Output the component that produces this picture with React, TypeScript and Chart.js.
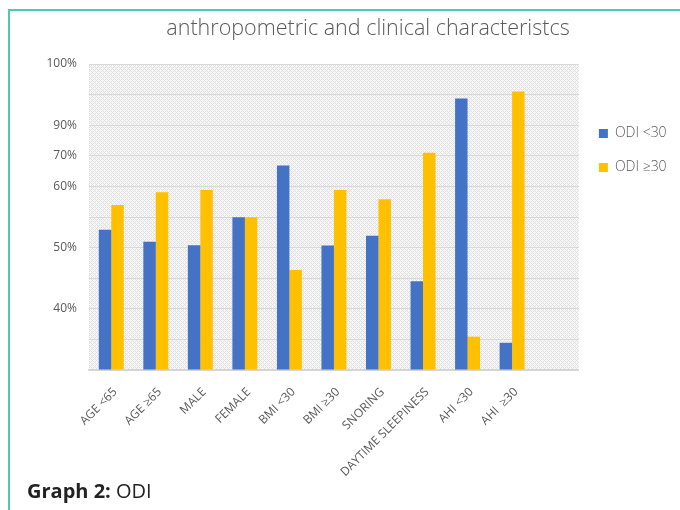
import React, { useEffect, useRef } from "react";
import { Chart, registerables } from "chart.js";

Chart.register(...registerables);

const chartTitle = "anthropometric and clinical characteristcs";
// the source chart keeps an empty 11th category slot at the right end
const categories = [
  "AGE <65",
  "AGE ≥65",
  "MALE",
  "FEMALE",
  "BMI <30",
  "BMI ≥30",
  "SNORING",
  "DAYTIME SLEEPINESS",
  "AHI <30",
  "AHI  ≥30",
  "",
];
const seriesNames = ["ODI <30", "ODI ≥30"];
const odiBelow30 = [45.8, 41.9, 40.8, 49.9, 66.8, 40.7, 43.9, 29.0, 88.7, 8.9, null];
const odiAbove30 = [53.9, 58.1, 58.8, 49.9, 32.7, 58.8, 55.8, 71.0, 10.9, 91.0, null];
const yTickValues = [100, 80, 70, 60, 40, 20];
const yTickLabels = ["100%", "90%", "70%", "60%", "50%", "40%"];

const BLUE = "#4472C4";
const YELLOW = "#FFC000";
const TEXT = "#595959";
const FONT = "'Open Sans'";

const hatchPlugin = {
  id: "hatchBg",
  beforeDraw(chart: any) {
    const { ctx, chartArea: a } = chart;
    const p = document.createElement("canvas");
    p.width = 4;
    p.height = 4;
    const pc = p.getContext("2d")!;
    pc.fillStyle = "#f6f6f6";
    pc.fillRect(0, 0, 4, 4);
    pc.fillStyle = "#e0e0e0";
    pc.fillRect(0, 0, 1, 1);
    pc.fillRect(1, 1, 1, 1);
    pc.fillRect(2, 2, 1, 1);
    pc.fillRect(3, 3, 1, 1);
    pc.fillRect(3, 1, 1, 1);
    pc.fillRect(1, 3, 1, 1);
    const pat = ctx.createPattern(p, "repeat");
    ctx.save();
    ctx.fillStyle = pat;
    ctx.fillRect(a.left, a.top, a.right - a.left, a.bottom - a.top);
    ctx.restore();
  },
};

function measure(text: string, font: string) {
  const c = document.createElement("canvas").getContext("2d")!;
  c.font = font;
  return c.measureText(text).width;
}

export default function App() {
  const ref = useRef<HTMLCanvasElement>(null);

  useEffect(() => {
    if (!ref.current) return;
    // layout targets
    const plotLeft = 89;
    const plotRight = 578;
    const legendPad = 20;
    const titleCenter = 368;
    const legendFontSize = 14;
    const boxW = 9;
    const legendTextW = Math.max(
      ...seriesNames.map((s) => measure(s, `${legendFontSize}px ${FONT}`))
    );
    const legendW = legendPad + boxW + legendFontSize / 2 + legendTextW + 10;
    const padRight = 680 - plotRight - legendW;
    const padLeft = 2 * titleCenter - 680 + padRight;
    const yAxisW = plotLeft - padLeft;
    const yFont = `12px ${FONT}`;
    const widest = Math.max(...yTickLabels.map((s) => measure(s, yFont)));
    const yLabelRight = 77;
    const yPad = yLabelRight - plotLeft - widest;

    const chart = new Chart(ref.current, {
      type: "bar",
      data: {
        labels: categories,
        datasets: [
          {
            label: seriesNames[0],
            data: odiBelow30,
            backgroundColor: BLUE,
            categoryPercentage: 0.56,
            barPercentage: 1.0,
          },
          {
            label: seriesNames[1],
            data: odiAbove30,
            backgroundColor: YELLOW,
            categoryPercentage: 0.56,
            barPercentage: 1.0,
          },
        ],
      },
      options: {
        animation: false,
        responsive: false,
        layout: { padding: { left: padLeft, right: padRight, top: 0, bottom: 0 } },
        plugins: {
          tooltip: { enabled: false },
          title: {
            display: true,
            text: chartTitle,
            color: TEXT,
            font: { family: FONT, size: 21.5, weight: "300" },
            padding: { top: 16, bottom: 64 - 16 - 21.5 * 1.2 },
          },
          legend: {
            position: "right",
            align: "start",
            title: {
              display: true,
              text: " ",
              padding: { top: 92, bottom: 0 },
              font: { size: 12 },
            },
            labels: {
              boxWidth: boxW,
              boxHeight: 9,
              padding: legendPad,
              color: TEXT,
              font: { family: FONT, size: legendFontSize, weight: "300" },
            },
          },
        },
        scales: {
          x: {
            grid: { display: false, drawTicks: false },
            border: { display: true, color: "#d4d4d4", width: 1.5 },
            ticks: {
              autoSkip: false,
              maxRotation: 45,
              minRotation: 45,
              padding: 15,
              labelOffset: 4,
              color: TEXT,
              font: { family: FONT, size: 12 },
            },
            afterFit(scale: any) {
              scale.height = 140;
            },
          },
          y: {
            min: 0,
            max: 100,
            grid: { color: "#d9d9d9", drawTicks: false },
            border: { display: false },
            ticks: {
              stepSize: 10,
              autoSkip: false,
              mirror: true,
              crossAlign: "far",
              padding: yPad,
              color: TEXT,
              font: { family: FONT, size: 12 },
              callback: (v: any) => {
                const i = yTickValues.indexOf(Number(v));
                return i >= 0 ? yTickLabels[i] : "";
              },
            },
            afterFit(scale: any) {
              scale.width = yAxisW;
            },
          },
        },
      },
      plugins: [hatchPlugin],
    });
    return () => chart.destroy();
  }, []);

  return (
    <div
      style={{
        position: "fixed",
        left: 0,
        top: 0,
        width: 680,
        height: 510,
        background: "#fff",
        overflow: "hidden",
      }}
    >
      <div
        style={{
          position: "absolute",
          left: 8,
          top: 9,
          width: 720,
          height: 600,
          borderLeft: "2px solid #4cc9b0",
          borderTop: "2px solid #4cc9b0",
        }}
      />
      <div style={{ position: "absolute", left: 0, top: 0, width: 680, height: 510 }}>
        <canvas ref={ref} width={680} height={510} />
      </div>
      <div
        style={{
          position: "absolute",
          left: 27,
          top: 477,
          fontFamily: "'Open Sans', sans-serif",
          fontSize: 20,
          lineHeight: "normal",
          color: "#222",
          whiteSpace: "nowrap",
        }}
      >
        <b>Graph 2:</b> ODI
      </div>
    </div>
  );
}
